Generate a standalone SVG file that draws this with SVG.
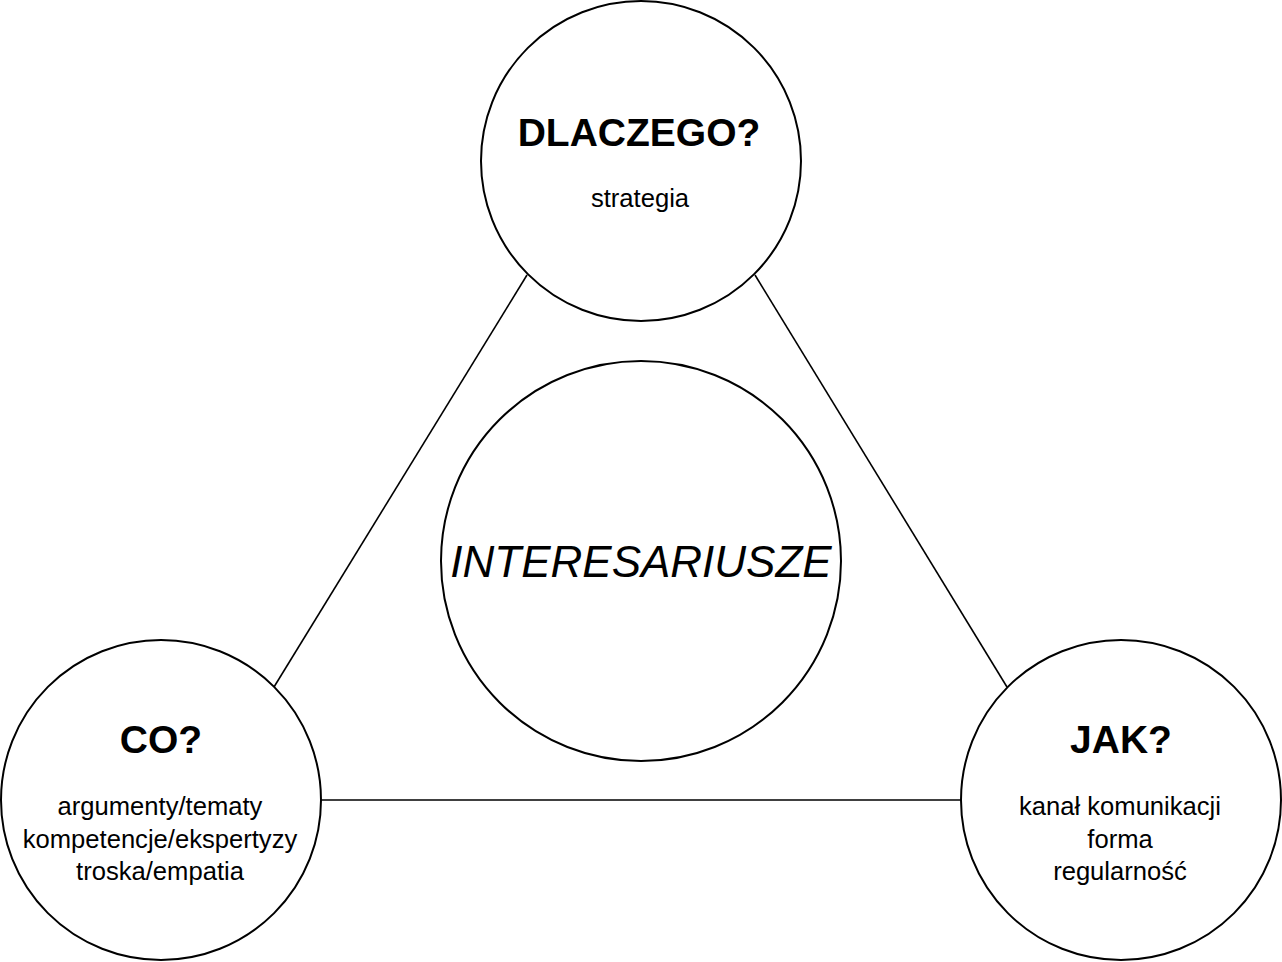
<svg xmlns="http://www.w3.org/2000/svg" width="1282" height="962" viewBox="0 0 1282 962">
<style>
.c{fill:#fff;stroke:#000;stroke-width:2}
.l{stroke:#000;stroke-width:1.6;fill:none}
.t{font-family:"Liberation Sans",Arial,sans-serif;font-weight:bold;font-size:39px;text-anchor:middle;fill:#000}
.s{font-family:"Liberation Sans",Arial,sans-serif;font-size:25.6px;text-anchor:middle;fill:#000}
.m{font-family:"Liberation Sans",Arial,sans-serif;font-style:italic;font-size:44px;text-anchor:middle;fill:#000}
</style>
<rect width="1282" height="962" fill="#fff"/>
<g id="connectors">
<line class="l" x1="527" y1="275" x2="274" y2="687"/>
<line class="l" x1="755" y1="275" x2="1007" y2="687"/>
<line class="l" x1="321" y1="800" x2="961" y2="800"/>
</g>
<g id="dlaczego">
<circle class="c" cx="641" cy="161" r="160"/>
<text class="t" x="639" y="146">DLACZEGO?</text>
<text class="s" x="640" y="207">strategia</text>
</g>
<g id="interesariusze">
<circle class="c" cx="641" cy="561" r="200"/>
<text class="m" x="641" y="577">INTERESARIUSZE</text>
</g>
<g id="co">
<circle class="c" cx="161" cy="800" r="160"/>
<text class="t" x="161" y="753">CO?</text>
<text class="s" x="160" y="815">argumenty/tematy</text>
<text class="s" x="160" y="848">kompetencje/ekspertyzy</text>
<text class="s" x="160" y="880">troska/empatia</text>
</g>
<g id="jak">
<circle class="c" cx="1121" cy="800" r="160"/>
<text class="t" x="1121" y="753">JAK?</text>
<text class="s" x="1120" y="815">kanał komunikacji</text>
<text class="s" x="1120" y="848">forma</text>
<text class="s" x="1120" y="880">regularność</text>
</g>
</svg>
